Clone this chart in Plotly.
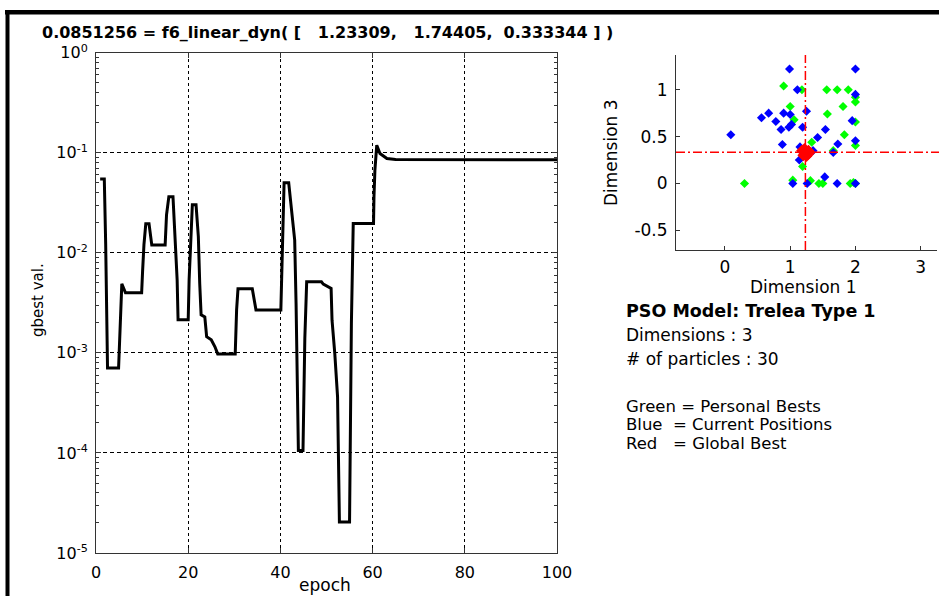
import plotly.graph_objects as go

W, H = 939, 596

# ---------------- data ----------------
epoch = [0.9, 1.8, 2.1, 2.3, 2.5, 4.9, 5.1, 5.3, 5.6, 6.4, 9.9, 10.1, 10.4, 10.8, 11.5,
         12.1, 15.0, 15.3, 15.8, 16.7, 17.2, 17.6, 17.8, 20.0, 20.2, 20.5, 20.9, 21.7,
         22.2, 22.5, 22.8, 23.6, 24.0, 25.0, 25.8, 26.4, 30.2, 30.5, 30.8, 33.9, 34.4,
         34.7, 40.1, 40.3, 40.5, 40.8, 41.8, 42.5, 43.1, 43.4, 43.6, 43.9, 44.9, 45.1,
         45.3, 45.7, 48.9, 49.3, 51.0, 51.2, 51.8, 52.4, 52.6, 52.8, 55.0, 55.2, 55.4,
         55.8, 60.2, 60.3, 60.5, 60.9, 61.6, 63.1, 65.0, 100.0]
gbest = [0.0546, 0.0546, 0.0123, 0.00288, 0.000708, 0.000708, 0.00135, 0.00257, 0.0049,
         0.00398, 0.00398, 0.00646, 0.0120, 0.0195, 0.0195, 0.0120, 0.0120, 0.0240, 0.0363,
         0.0363, 0.0145, 0.00537, 0.00214, 0.00214, 0.00537, 0.0123, 0.0302, 0.0302,
         0.0145, 0.0049, 0.0024, 0.00229, 0.00145, 0.00135, 0.00115, 0.000977, 0.000977,
         0.00269, 0.00437, 0.00437, 0.00339, 0.00269, 0.00269, 0.00776, 0.0170, 0.0501,
         0.0501, 0.0247, 0.0134, 0.00311, 0.000575, 0.000106, 0.000106, 0.000363, 0.00139,
         0.00513, 0.00513, 0.00486, 0.00440, 0.00212, 0.000984, 0.000363, 0.0000845,
         0.0000204, 0.0000204, 0.000196, 0.00196, 0.0196, 0.0196, 0.0363, 0.0671, 0.119,
         0.0984, 0.0877, 0.0855, 0.0851]

x_ticks = [0, 20, 40, 60, 80, 100]
y_ticks = [1e-5, 1e-4, 1e-3, 1e-2, 1e-1, 1]
y_ticktext = ["10<sup>-5</sup>", "10<sup>-4</sup>", "10<sup>-3</sup>",
              "10<sup>-2</sup>", "10<sup>-1</sup>", "10<sup>0</sup>"]
y_minor = [k * 10.0 ** e for e in range(-5, 0) for k in range(2, 10)]

gbest_pos = [1.23309, 1.74405, 0.333344]
gbest_val = 0.0851256

blue_d1 = [0.99, 2.0, 1.11, 2.0, 0.67, 0.56, 0.90, 1.0, 1.25, 0.78, 1.95, 1.02, 0.98, 0.86,
           1.19, 1.54, 0.09, 1.42, 2.0, 0.88, 1.73, 1.15, 1.35, 1.66, 1.14, 1.53, 1.04,
           1.26, 1.72, 2.0]
blue_d3 = [1.22, 1.22, 1.0, 0.95, 0.75, 0.70, 0.75, 0.735, 0.77, 0.66, 0.67, 0.63, 0.60,
           0.575, 0.60, 0.575, 0.52, 0.49, 0.455, 0.415, 0.42, 0.39, 0.35, 0.33, 0.25,
           0.07, 0.0, 0.0, 0.0, 0.0]
green_d1 = [0.90, 1.18, 1.56, 1.72, 1.89, 2.0, 2.0, 1.0, 1.81, 1.57, 1.06, 2.0, 1.83, 1.33,
            2.0, 1.66, 1.19, 1.04, 1.31, 0.30, 1.44, 1.50, 1.92, 1.97, 2.0]
green_d3 = [1.04, 1.0, 1.0, 1.0, 1.0, 0.92, 0.87, 0.82, 0.82, 0.74, 0.68, 0.655, 0.52, 0.44,
            0.405, 0.35, 0.18, 0.035, 0.03, 0.0, 0.0, 0.0, 0.0, 0.01, 0.0]
red_d1 = [1.18, 1.20, 1.23, 1.27, 1.28, 1.22, 1.25, 1.30]
red_d3 = [0.35, 0.30, 0.333, 0.31, 0.35, 0.37, 0.29, 0.33]

info_title = "PSO Model: Trelea Type 1"
info_lines = ["Dimensions : 3", "# of particles : 30"]
legend_lines = ["Green = Personal Bests", "Blue\u00a0\u00a0= Current Positions",
                "Red\u00a0\u00a0\u00a0= Global Best"]

FONT = "DejaVu Sans"

def px(x):
    return x / W

def py(y):
    return 1 - y / H

fig = go.Figure()
fig.add_trace(go.Scatter(x=epoch, y=gbest, mode="lines",
                         line=dict(color="black", width=3),
                         xaxis="x", yaxis="y", showlegend=False, hoverinfo="skip"))

mk = dict(symbol="diamond", size=7, line=dict(width=0))
fig.add_trace(go.Scatter(x=green_d1, y=green_d3, mode="markers",
                         marker=dict(color="#00ff00", **mk), xaxis="x2", yaxis="y2",
                         showlegend=False))
fig.add_trace(go.Scatter(x=blue_d1, y=blue_d3, mode="markers",
                         marker=dict(color="#0000ff", **mk), xaxis="x2", yaxis="y2",
                         showlegend=False))
fig.add_trace(go.Scatter(x=red_d1, y=red_d3, mode="markers",
                         marker=dict(color="#ff0000", symbol="diamond", size=9, line=dict(width=0)),
                         xaxis="x2", yaxis="y2", showlegend=False))

axcol = "#333333"
fig.update_layout(
    width=W, height=H, margin=dict(l=0, r=0, t=0, b=0, pad=0, autoexpand=False),
    paper_bgcolor="white", plot_bgcolor="white",
    font=dict(family=FONT, color="black"),
    xaxis=dict(domain=[px(96), px(557)], range=[0, 100], tickmode="array",
               tickvals=x_ticks, ticks="inside", ticklen=5, tickcolor=axcol,
               mirror="ticks", showline=True, linecolor=axcol, linewidth=1,
               showgrid=True, gridcolor="black", griddash="3px,3px", gridwidth=1,
               zeroline=False, tickfont=dict(size=16), anchor="y", ticklabelstandoff=5,
               automargin=False),
    yaxis=dict(domain=[py(553), py(52.7)], type="log", range=[-5, 0], tickmode="array",
               tickvals=y_ticks, ticktext=y_ticktext, ticks="inside", ticklen=5,
               tickcolor=axcol, mirror="ticks", showline=True, linecolor=axcol, linewidth=1,
               showgrid=True, gridcolor="black", griddash="4px,3px", gridwidth=1,
               zeroline=False, tickfont=dict(size=16), anchor="x", ticklabelstandoff=4,
               automargin=False,
               minor=dict(tickmode="array", tickvals=y_minor, ticks="inside", ticklen=3,
                          tickcolor=axcol, showgrid=False)),
    xaxis2=dict(domain=[px(676), px(937)], range=[-0.75, 3.25], tickmode="array",
                tickvals=[0, 1, 2, 3], ticks="inside", ticklen=4, tickcolor=axcol,
                showline=True, linecolor=axcol, linewidth=1, showgrid=False,
                zeroline=False, tickfont=dict(size=17), anchor="y2", ticklabelstandoff=2,
                automargin=False),
    yaxis2=dict(domain=[py(250), py(55)], range=[-0.71, 1.37], tickmode="array",
                tickvals=[-0.5, 0, 0.5, 1], ticktext=["-0.5", "0", "0.5", "1"],
                ticks="inside", ticklen=4, tickcolor=axcol, showline=True,
                linecolor=axcol, linewidth=1, showgrid=False, zeroline=False,
                tickfont=dict(size=17), anchor="x2", ticklabelstandoff=4,
                automargin=False),
)

# crosshair at global best
fig.add_shape(type="line", xref="x2", yref="y2 domain", x0=gbest_pos[0], x1=gbest_pos[0],
              y0=0, y1=1, line=dict(color="red", width=1.5, dash="9px,3px,2px,3px"))
fig.add_shape(type="line", xref="x2 domain", yref="y2", x0=0, x1=1.02,
              y0=gbest_pos[2], y1=gbest_pos[2],
              line=dict(color="red", width=1.5, dash="9px,3px,2px,3px"))

# frame borders
fig.add_shape(type="rect", xref="paper", yref="paper", x0=px(5), x1=1.0, y0=py(14.5), y1=py(10),
              fillcolor="black", line=dict(width=0), layer="above")
fig.add_shape(type="rect", xref="paper", yref="paper", x0=px(5.5), x1=px(9.5), y0=0, y1=py(10),
              fillcolor="black", line=dict(width=0), layer="above")

title = ("%.7g = f6_linear_dyn( [\u00a0\u00a0\u00a0%.5f,\u00a0\u00a0\u00a0%.5f,\u00a0\u00a0%.6f ] )"
         % (gbest_val, gbest_pos[0], gbest_pos[1], gbest_pos[2]))
ann = [
    dict(text="<b>" + title + "</b>", x=px(40), y=py(33), xanchor="left", yanchor="middle",
         font=dict(size=16)),
    dict(text="gbest val.", x=px(38), y=py(300), xanchor="center", yanchor="middle",
         textangle=-90, font=dict(size=15)),
    dict(text="epoch", x=px(325), y=py(585), xanchor="center", yanchor="middle",
         font=dict(size=17)),
    dict(text="Dimension 1", x=px(803), y=py(287), xanchor="center", yanchor="middle",
         font=dict(size=17)),
    dict(text="Dimension 3", x=px(611), y=py(153), xanchor="center", yanchor="middle",
         textangle=-90, font=dict(size=17)),
    dict(text="<b>" + info_title + "</b>", x=px(624), y=py(311), xanchor="left",
         yanchor="middle", font=dict(size=17.5)),
]
for i, t in enumerate(info_lines):
    ann.append(dict(text=t, x=px(624), y=py(335 + 24 * i), xanchor="left", yanchor="middle",
                    font=dict(size=17)))
for i, t in enumerate(legend_lines):
    ann.append(dict(text=t, x=px(624), y=py(406 + 18.5 * i), xanchor="left", yanchor="middle",
                    font=dict(size=16.5)))
for a in ann:
    a.update(xref="paper", yref="paper", showarrow=False)
    a.setdefault("font", {})
    a["font"]["color"] = "black"
    a["font"]["family"] = FONT
fig.update_layout(annotations=ann)

fig.write_html("out.html")
